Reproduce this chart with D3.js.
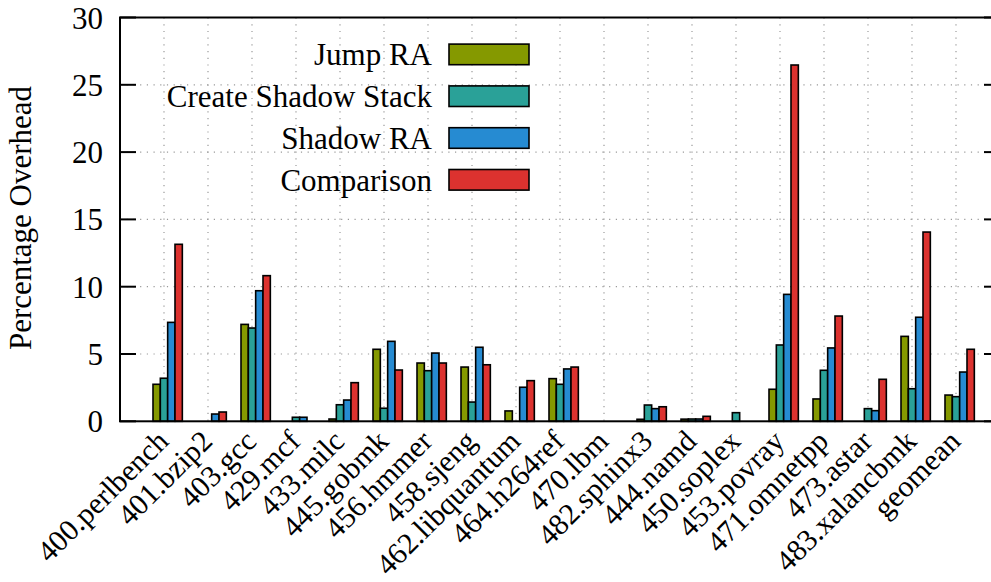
<!DOCTYPE html>
<html>
<head>
<meta charset="utf-8">
<script src="https://d3js.org/d3.v7.min.js"></script>
<style>
  body { margin: 0; background: #fff; }
  svg { display: block; }
  text { font-family: "Liberation Serif", "DejaVu Serif", serif; fill: #000; }
</style>
</head>
<body>
<div id="chart"></div>
<script>
// Benchmark overhead per scheme

const benchmarks = ['400.perlbench', '401.bzip2', '403.gcc', '429.mcf', '433.milc',
  '445.gobmk', '456.hmmer', '458.sjeng', '462.libquantum', '464.h264ref', '470.lbm',
  '482.sphinx3', '444.namd', '450.soplex', '453.povray', '471.omnetpp', '473.astar',
  '483.xalancbmk', 'geomean'];

const jumpRA = [2.75, 0, 7.2, 0, 0.17, 5.35, 4.33, 4.03, 0.77, 3.17, 0,
  0.15, 0.16, 0, 2.38, 1.66, 0, 6.31, 1.95];
const createShadowStack = [3.2, 0, 6.93, 0.3, 1.23, 0.97, 3.76, 1.43, 0, 2.75, 0,
  1.21, 0.17, 0.64, 5.67, 3.79, 0.94, 2.42, 1.83];
const shadowRA = [7.35, 0.54, 9.7, 0.3, 1.58, 5.94, 5.07, 5.5, 2.53, 3.89, 0,
  0.94, 0.17, 0, 9.43, 5.45, 0.79, 7.73, 3.66];
const comparison = [13.15, 0.69, 10.82, 0, 2.87, 3.81, 4.33, 4.2, 3.02, 4.03, 0,
  1.08, 0.37, 0, 26.47, 7.82, 3.12, 14.06, 5.35];

const seriesNames = ['Jump RA', 'Create Shadow Stack', 'Shadow RA', 'Comparison'];
const seriesValues = [jumpRA, createShadowStack, shadowRA, comparison];
const seriesColors = ['#859900', '#2aa198', '#268bd2', '#dc322f'];

const yTicks = [0, 5, 10, 15, 20, 25, 30];

const width = 991;
const height = 582;

// plot frame (right border falls just outside the picture, as in the original)
const plotLeft = 120, plotRight = 1000, plotTop = 17.5, plotBottom = 421.3;

const svg = d3.select('#chart')
  .append('svg')
  .attr('width', width)
  .attr('height', height);

const x = d3.scaleLinear().domain([-1, benchmarks.length]).range([plotLeft, plotRight]);
const y = d3.scaleLinear().domain([0, 30]).range([plotBottom, plotTop]);

const barW = 1 / 6; // bar width in category units

// Grid lines (dotted)
svg.append('g')
  .selectAll('line')
  .data(yTicks.filter(t => t > 0 && t < 30))
  .enter()
  .append('line')
  .attr('x1', plotLeft).attr('x2', plotRight)
  .attr('y1', d => y(d)).attr('y2', d => y(d))
  .style('stroke', '#9a9a9a')
  .style('stroke-width', 1.2)
  .style('stroke-dasharray', '1.2,5.5');

svg.append('g')
  .selectAll('line')
  .data(benchmarks)
  .enter()
  .append('line')
  .attr('x1', (d, i) => x(i)).attr('x2', (d, i) => x(i))
  .attr('y1', plotTop).attr('y2', plotBottom)
  .style('stroke', '#9a9a9a')
  .style('stroke-width', 1.2)
  .style('stroke-dasharray', '1.2,5.5');

// Bars
seriesValues.forEach((vals, k) => {
  svg.append('g')
    .selectAll('rect')
    .data(vals.map((v, i) => ({ v, i })).filter(d => d.v > 0))
    .enter()
    .append('rect')
    .attr('x', d => x(d.i + (k - 1.5) * barW))
    .attr('width', d => x(d.i + (k - 0.5) * barW) - x(d.i + (k - 1.5) * barW))
    .attr('y', d => y(d.v))
    .attr('height', d => y(0) - y(d.v))
    .style('fill', seriesColors[k])
    .style('stroke', '#000')
    .style('stroke-width', 1.6);
});

// Border
svg.append('rect')
  .attr('x', plotLeft).attr('y', plotTop)
  .attr('width', plotRight - plotLeft).attr('height', plotBottom - plotTop)
  .style('fill', 'none')
  .style('stroke', '#000')
  .style('stroke-width', 2);

// Y ticks (left and mirrored right)
const yAxisG = svg.append('g');
yTicks.forEach(t => {
  yAxisG.append('line')
    .attr('x1', plotLeft).attr('x2', plotLeft + 16)
    .attr('y1', y(t)).attr('y2', y(t))
    .style('stroke', '#000').style('stroke-width', 2);
  yAxisG.append('line')
    .attr('x1', plotRight - 16).attr('x2', plotRight)
    .attr('y1', y(t)).attr('y2', y(t))
    .style('stroke', '#000').style('stroke-width', 2);
  yAxisG.append('text')
    .attr('x', 103)
    .attr('y', y(t) + 11)
    .attr('text-anchor', 'end')
    .style('font-size', '31px')
    .text(t);
});

// X labels rotated
svg.append('g')
  .selectAll('text')
  .data(benchmarks)
  .enter()
  .append('text')
  .attr('text-anchor', 'end')
  .attr('transform', (d, i) => `translate(${x(i) + 6}, 443) rotate(-45)`)
  .style('font-size', '30px')
  .text(d => d);

// Y label
svg.append('text')
  .attr('transform', `translate(31, 218) rotate(-90)`)
  .attr('text-anchor', 'middle')
  .style('font-size', '31px')
  .text('Percentage Overhead');

// Legend
const legend = svg.append('g');
seriesNames.forEach((name, k) => {
  const cy = 54.4 + k * 41.8;
  legend.append('text')
    .attr('x', 432)
    .attr('y', cy + 11)
    .attr('text-anchor', 'end')
    .style('font-size', '31px')
    .text(name);
  legend.append('rect')
    .attr('x', 449).attr('y', cy - 10.3)
    .attr('width', 80).attr('height', 20.6)
    .style('fill', seriesColors[k])
    .style('stroke', '#000')
    .style('stroke-width', 1.6);
});
</script>
</body>
</html>
